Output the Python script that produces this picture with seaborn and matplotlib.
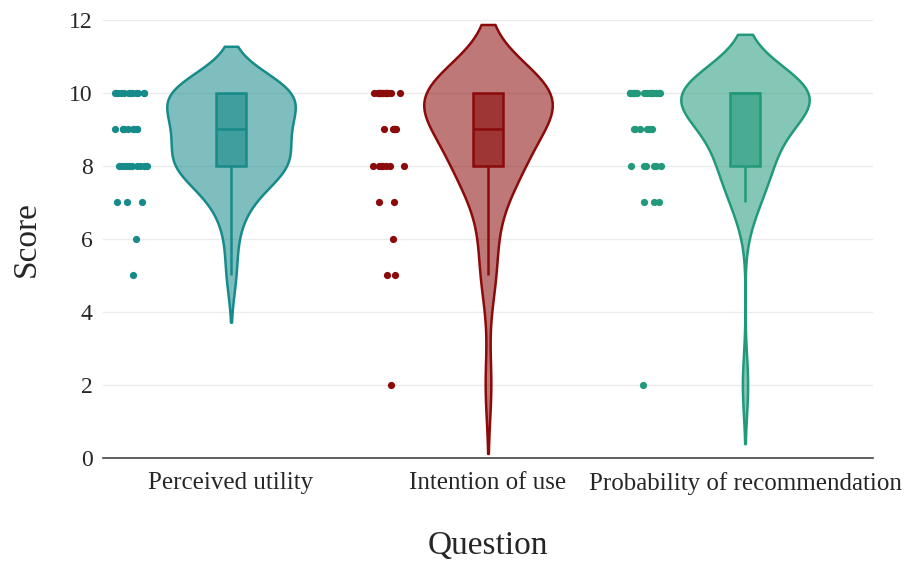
import numpy as np
import pandas as pd
import matplotlib
matplotlib.use('Agg')
import matplotlib.pyplot as plt
import seaborn as sns

# ── Data: score counts per question ─────────────────────────
QUESTIONS = ['Perceived utility', 'Intention of use', 'Probability of recommendation']
COLORS    = ['#178a8a', '#8b0a0a', '#22997a']

utility_scores = [10, 9, 8, 7, 6, 5]
utility_counts = [13, 9, 11, 3, 1, 1]

intention_scores = [10, 9, 8, 7, 6, 5, 2]
intention_counts = [18, 6, 7, 2, 1, 2, 1]

recommend_scores = [10, 9, 8, 7, 2]
recommend_counts = [21, 6, 6, 3, 1]

rows = []
for q, sc, ct in zip(QUESTIONS,
                     [utility_scores, intention_scores, recommend_scores],
                     [utility_counts, intention_counts, recommend_counts]):
    for s, c in zip(sc, ct):
        rows += [(q, s)] * c
df = pd.DataFrame(rows, columns=['Question', 'Score'])

# ── Plot ────────────────────────────────────────────────────
sns.set_style('white')
plt.rcParams['font.family'] = ['Liberation Serif', 'DejaVu Serif']

fig = plt.figure(figsize=(9.08, 5.63), dpi=100)
ax = fig.add_axes([0.1129, 0.1865, 0.8491, 0.778])

np.random.seed(3)
for q, col in zip(QUESTIONS, COLORS):
    sub = df[df['Question'] == q]
    rgb = matplotlib.colors.to_rgb(col)

    n0 = len(ax.collections)
    sns.violinplot(data=sub, x='Question', y='Score', order=QUESTIONS,
                   color=col, inner=None, width=0.5, cut=2,
                   bw_method='silverman', linewidth=1.8, saturation=1, ax=ax)
    for c in ax.collections[n0:]:
        c.set_facecolor((*rgb, 0.55))
        c.set_edgecolor(col)

    sns.boxplot(data=sub, x='Question', y='Score', order=QUESTIONS,
                width=0.12, showfliers=False, showcaps=False, whis=1.5,
                linewidth=1.8, linecolor=col, saturation=1, ax=ax,
                boxprops=dict(facecolor=(*rgb, 0.6), edgecolor=col))

    n1 = len(ax.collections)
    sns.stripplot(data=sub, x='Question', y='Score', order=QUESTIONS,
                  color=col, jitter=0.065, size=5.2, linewidth=0, ax=ax)
    # shift the points to the left of the violin
    for c in ax.collections[n1:]:
        offs = c.get_offsets()
        offs[:, 0] -= 0.39
        c.set_offsets(offs)

ax.set_xlim(-0.5, 2.5)
ax.set_ylim(0, 12)
ax.set_yticks(range(0, 13, 2))
ax.yaxis.grid(True, color='#ebebeb', linewidth=1)
ax.set_axisbelow(True)

for s in ['top', 'right', 'left']:
    ax.spines[s].set_visible(False)
ax.spines['bottom'].set_color('#444444')
ax.spines['bottom'].set_linewidth(1.2)

ax.tick_params(axis='y', length=5, color='#dddddd', labelsize=17, pad=2)
ax.tick_params(axis='x', length=0, labelsize=18, pad=10)
ax.set_xlabel('Question', fontsize=24, labelpad=26)
ax.set_ylabel('Score', fontsize=24, labelpad=20)

fig.savefig('out.png', dpi=100)
